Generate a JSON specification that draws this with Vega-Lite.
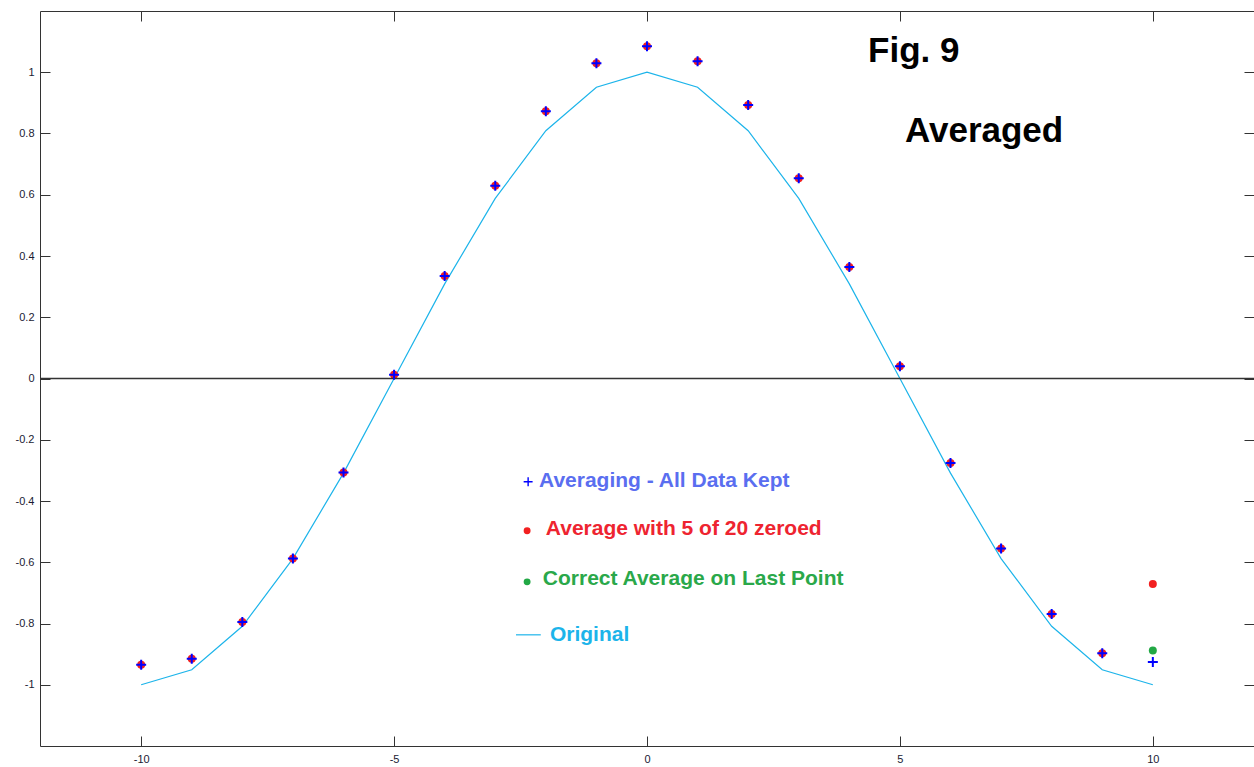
{
  "$schema": "https://vega.github.io/schema/vega-lite/v6.json",
  "autosize": {"type": "none"},
  "padding": {"left": 40, "top": 11, "right": 0, "bottom": 21},
  "width": 1214,
  "height": 735,
  "background": "white",
  "config": {
    "view": {"stroke": null},
    "axis": {
      "domainColor": "#333333",
      "domainWidth": 1,
      "tickColor": "#333333",
      "tickSize": -10,
      "tickWidth": 1,
      "grid": false,
      "labelFont": "Liberation Sans",
      "labelFontSize": 11,
      "labelColor": "#1a1a33",
      "title": null
    }
  },
  "datasets": {
    "pts": [
      {"x": -10, "orig": -1.0, "kept": -0.935, "zeroed": -0.935},
      {"x": -9, "orig": -0.951, "kept": -0.915, "zeroed": -0.915},
      {"x": -8, "orig": -0.809, "kept": -0.795, "zeroed": -0.795},
      {"x": -7, "orig": -0.588, "kept": -0.588, "zeroed": -0.588},
      {"x": -6, "orig": -0.309, "kept": -0.307, "zeroed": -0.307},
      {"x": -5, "orig": 0.0, "kept": 0.012, "zeroed": 0.012},
      {"x": -4, "orig": 0.309, "kept": 0.335, "zeroed": 0.335},
      {"x": -3, "orig": 0.588, "kept": 0.629, "zeroed": 0.629},
      {"x": -2, "orig": 0.809, "kept": 0.873, "zeroed": 0.873},
      {"x": -1, "orig": 0.951, "kept": 1.029, "zeroed": 1.029},
      {"x": 0, "orig": 1.0, "kept": 1.085, "zeroed": 1.085},
      {"x": 1, "orig": 0.951, "kept": 1.036, "zeroed": 1.036},
      {"x": 2, "orig": 0.809, "kept": 0.893, "zeroed": 0.893},
      {"x": 3, "orig": 0.588, "kept": 0.654, "zeroed": 0.654},
      {"x": 4, "orig": 0.309, "kept": 0.364, "zeroed": 0.364},
      {"x": 5, "orig": 0.0, "kept": 0.040, "zeroed": 0.040},
      {"x": 6, "orig": -0.309, "kept": -0.276, "zeroed": -0.276},
      {"x": 7, "orig": -0.588, "kept": -0.555, "zeroed": -0.555},
      {"x": 8, "orig": -0.809, "kept": -0.769, "zeroed": -0.769},
      {"x": 9, "orig": -0.951, "kept": -0.897, "zeroed": -0.897},
      {"x": 10, "orig": -1.0, "kept": -0.926, "zeroed": -0.671}
    ],
    "correct": [{"x": 10, "y": -0.888}],
    "notes": [
      {"x": 4.37, "y": 1.033, "label": "Fig. 9"},
      {"x": 5.1, "y": 0.772, "label": "Averaged"}
    ],
    "legtext": [
      {"x": -2.135, "y": -0.336, "label": "Averaging - All Data Kept", "series": "kept"},
      {"x": -2.0, "y": -0.492, "label": "Average with 5 of 20 zeroed", "series": "zeroed"},
      {"x": -2.06, "y": -0.656, "label": "Correct Average on Last Point", "series": "correct"},
      {"x": -1.92, "y": -0.839, "label": "Original", "series": "orig"}
    ],
    "legplus": [{"x": -2.35, "y": -0.337}],
    "legred": [{"x": -2.37, "y": -0.497}],
    "leggreen": [{"x": -2.37, "y": -0.664}],
    "legline": [{"x": -2.59, "x2": -2.1, "y": -0.837}]
  },
  "resolve": {"axis": {"x": "independent", "y": "independent"}},
  "layer": [
    {
      "data": {"name": "pts"},
      "mark": {"type": "line", "color": "#1cb4ea", "strokeWidth": 1.2},
      "encoding": {
        "x": {"field": "x", "type": "quantitative", "scale": {"domain": [-12, 12], "nice": false, "zero": false},
              "axis": {"orient": "bottom", "values": [-10, -5, 0, 5, 10], "labelExpr": "'' + datum.value", "labelPadding": 17}},
        "y": {"field": "orig", "type": "quantitative", "scale": {"domain": [-1.2, 1.2], "nice": false, "zero": false},
              "axis": {"orient": "left", "values": [-1, -0.8, -0.6, -0.4, -0.2, 0, 0.2, 0.4, 0.6, 0.8, 1], "labelExpr": "'' + datum.value", "labelPadding": 16}}
      }
    },
    {
      "data": {"name": "pts"},
      "mark": {"type": "point", "shape": "circle", "filled": true, "color": "#f22020", "size": 64, "opacity": 1},
      "encoding": {
        "x": {"field": "x", "type": "quantitative",
              "axis": {"orient": "top", "values": [-10, -5, 0, 5, 10], "labels": false, "domain": true}},
        "y": {"field": "zeroed", "type": "quantitative",
              "axis": {"orient": "right", "values": [-1, -0.8, -0.6, -0.4, -0.2, 0, 0.2, 0.4, 0.6, 0.8, 1], "labels": false, "domain": false}}
      }
    },
    {
      "data": {"values": [{"v": 0}]},
      "mark": {"type": "rule", "color": "#333333", "strokeWidth": 1.5},
      "encoding": {
        "y": {"field": "v", "type": "quantitative", "axis": null}
      }
    },
    {
      "data": {"name": "pts"},
      "mark": {"type": "point", "shape": "M-1,0H1M0,-1V1", "filled": false, "color": "#0000ff", "strokeWidth": 2, "size": 100, "opacity": 1},
      "encoding": {
        "x": {"field": "x", "type": "quantitative", "axis": null},
        "y": {"field": "kept", "type": "quantitative", "axis": null}
      }
    },
    {
      "data": {"name": "correct"},
      "mark": {"type": "point", "shape": "circle", "filled": true, "color": "#22a845", "size": 64, "opacity": 1},
      "encoding": {
        "x": {"field": "x", "type": "quantitative", "axis": null},
        "y": {"field": "y", "type": "quantitative", "axis": null}
      }
    },
    {
      "data": {"name": "notes"},
      "mark": {"type": "text", "font": "Liberation Sans", "fontWeight": "bold", "fontSize": 35, "align": "left", "baseline": "alphabetic", "color": "#000000"},
      "encoding": {
        "x": {"field": "x", "type": "quantitative", "axis": null},
        "y": {"field": "y", "type": "quantitative", "axis": null},
        "text": {"field": "label"}
      }
    },
    {
      "data": {"name": "legtext"},
      "mark": {"type": "text", "font": "Liberation Sans", "fontWeight": "bold", "fontSize": 21, "align": "left", "baseline": "middle"},
      "encoding": {
        "x": {"field": "x", "type": "quantitative", "axis": null},
        "y": {"field": "y", "type": "quantitative", "axis": null},
        "text": {"field": "label"},
        "color": {"field": "series", "type": "nominal", "legend": null,
                  "scale": {"domain": ["kept", "zeroed", "correct", "orig"], "range": ["#5a6ef0", "#ee2430", "#2aa84a", "#1cb4ea"]}}
      }
    },
    {
      "data": {"name": "legplus"},
      "mark": {"type": "point", "shape": "M-1,0H1M0,-1V1", "filled": false, "color": "#0000ff", "strokeWidth": 1.4, "size": 80, "opacity": 1},
      "encoding": {
        "x": {"field": "x", "type": "quantitative", "axis": null},
        "y": {"field": "y", "type": "quantitative", "axis": null}
      }
    },
    {
      "data": {"name": "legred"},
      "mark": {"type": "point", "shape": "circle", "filled": true, "color": "#f22020", "size": 48, "opacity": 1},
      "encoding": {
        "x": {"field": "x", "type": "quantitative", "axis": null},
        "y": {"field": "y", "type": "quantitative", "axis": null}
      }
    },
    {
      "data": {"name": "leggreen"},
      "mark": {"type": "point", "shape": "circle", "filled": true, "color": "#22a845", "size": 48, "opacity": 1},
      "encoding": {
        "x": {"field": "x", "type": "quantitative", "axis": null},
        "y": {"field": "y", "type": "quantitative", "axis": null}
      }
    },
    {
      "data": {"name": "legline"},
      "mark": {"type": "rule", "color": "#1cb4ea", "strokeWidth": 1.2},
      "encoding": {
        "x": {"field": "x", "type": "quantitative", "axis": null},
        "x2": {"field": "x2"},
        "y": {"field": "y", "type": "quantitative", "axis": null}
      }
    }
  ]
}
